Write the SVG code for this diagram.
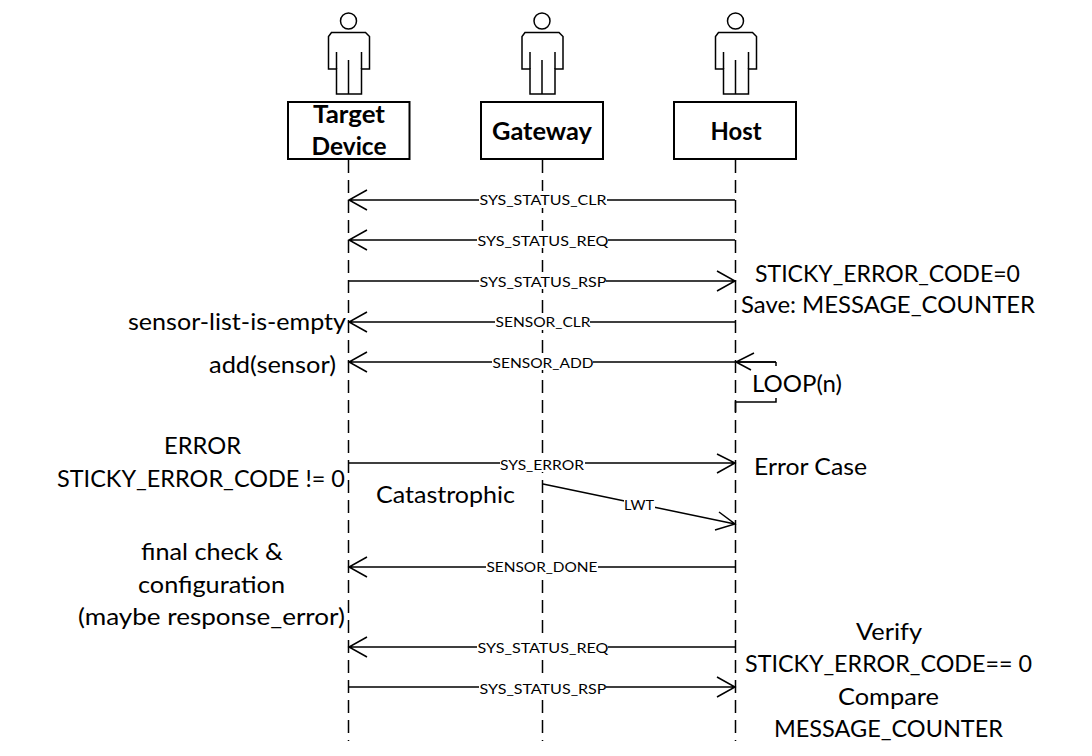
<svg xmlns="http://www.w3.org/2000/svg" width="1092" height="756" viewBox="0 0 1092 756">
<style>
text{font-family:"Lato","Carlito","Open Sans",sans-serif;fill:#000}
.t{font-size:24px}
.b{font-size:24px;font-weight:700;text-anchor:middle}
.m{font-size:13.5px;text-anchor:middle}
.l{stroke:#000;stroke-width:1.5;fill:none}
.d{stroke:#000;stroke-width:1.5;fill:none;stroke-dasharray:13 7}
.bg{fill:#fff}
.box{fill:#fff;stroke:#000;stroke-width:2}
</style>
<defs>
<g id="actor" class="l">
<circle cx="0" cy="21" r="8"/>
<path d="M-17 32.500H17L21 36.500V69H13V94H-12V69H-20V36.500L-17 32.500Z"/>
<path d="M-12 69V52M13 69V52M0 94V60"/>
</g>
</defs>
<rect width="1092" height="756" fill="#fff"/>
<g id="lifelines">
<path class="d" d="M348.500 160V741"/>
<path class="d" d="M542.500 160V741"/>
<path class="d" d="M735.500 160V741"/>
</g>
<g id="connectors">
<path class="l" d="M735 200H349M367 190L349 200L367 210"/>
<path class="l" d="M735 240H349M367 230L349 240L367 250"/>
<path class="l" d="M349 281H735M717 271L735 281L717 291"/>
<path class="l" d="M735 322H349M367 312L349 322L367 332"/>
<path class="l" d="M776 362H349M367 352L349 362L367 372"/>
<path class="l" d="M776 362H736M754 353L736 362L751 370"/>
<path class="l" d="M776 362V366M776 398V402H735.500V412"/>
<path class="l" d="M349 463H735M717 454L735 463L717 473"/>
<path class="l" d="M543 484L735 524M719 512L735 524L715 530"/>
<path class="l" d="M735 567H349M367 557L349 567L367 577"/>
<path class="l" d="M735 647H349M367 637L349 647L367 657"/>
<path class="l" d="M349 687H735M717 677L735 687L717 697"/>
</g>
<g id="message-labels">
<rect class="bg" x="479" y="191" width="128" height="17"/><text class="m" x="543" y="205" textLength="127" lengthAdjust="spacingAndGlyphs">SYS_STATUS_CLR</text>
<rect class="bg" x="477" y="231" width="131" height="17"/><text class="m" x="543" y="246" textLength="131" lengthAdjust="spacingAndGlyphs">SYS_STATUS_REQ</text>
<rect class="bg" x="479" y="272" width="127" height="17"/><text class="m" x="543" y="287" textLength="127" lengthAdjust="spacingAndGlyphs">SYS_STATUS_RSP</text>
<rect class="bg" x="495" y="313" width="95" height="17"/><text class="m" x="543" y="327" textLength="95" lengthAdjust="spacingAndGlyphs">SENSOR_CLR</text>
<rect class="bg" x="492" y="353" width="101" height="17"/><text class="m" x="543" y="368" textLength="101" lengthAdjust="spacingAndGlyphs">SENSOR_ADD</text>
<rect class="bg" x="500" y="455" width="85" height="17"/><text class="m" x="542" y="470" textLength="84" lengthAdjust="spacingAndGlyphs">SYS_ERROR</text>
<rect class="bg" x="624" y="497" width="31" height="17"/><text class="m" x="639" y="510" textLength="30" lengthAdjust="spacingAndGlyphs">LWT</text>
<rect class="bg" x="486" y="558" width="112" height="17"/><text class="m" x="542" y="572" textLength="111" lengthAdjust="spacingAndGlyphs">SENSOR_DONE</text>
<rect class="bg" x="477" y="638" width="131" height="17"/><text class="m" x="543" y="653" textLength="131" lengthAdjust="spacingAndGlyphs">SYS_STATUS_REQ</text>
<rect class="bg" x="479" y="679" width="127" height="17"/><text class="m" x="543" y="694" textLength="127" lengthAdjust="spacingAndGlyphs">SYS_STATUS_RSP</text>
</g>
<g id="target-device">
<use href="#actor" x="348.500"/>
<rect class="box" x="288" y="102" width="121.500" height="57"/>
<text class="b" x="349" y="123" textLength="72" lengthAdjust="spacingAndGlyphs">Target</text>
<text class="b" x="349" y="155" textLength="75" lengthAdjust="spacingAndGlyphs">Device</text>
</g>
<g id="gateway">
<use href="#actor" x="542"/>
<rect class="box" x="481" y="102" width="122" height="57"/>
<text class="b" x="542" y="140" textLength="100" lengthAdjust="spacingAndGlyphs">Gateway</text>
</g>
<g id="host">
<use href="#actor" x="735.500"/>
<rect class="box" x="674" y="102" width="122" height="57"/>
<text class="b" x="736" y="140" textLength="51" lengthAdjust="spacingAndGlyphs">Host</text>
</g>
<g id="notes" class="t">
<text x="755" y="282" textLength="265" lengthAdjust="spacingAndGlyphs">STICKY_ERROR_CODE=0</text>
<text x="741" y="313" textLength="294" lengthAdjust="spacingAndGlyphs">Save: MESSAGE_COUNTER</text>
<text x="128" y="330" textLength="218" lengthAdjust="spacingAndGlyphs">sensor-list-is-empty</text>
<text x="209" y="373" textLength="127" lengthAdjust="spacingAndGlyphs">add(sensor)</text>
<text x="752" y="392" textLength="90" lengthAdjust="spacingAndGlyphs">LOOP(n)</text>
<text x="164" y="454" textLength="77" lengthAdjust="spacingAndGlyphs">ERROR</text>
<text x="57" y="487" textLength="288" lengthAdjust="spacingAndGlyphs">STICKY_ERROR_CODE != 0</text>
<text x="754" y="475" textLength="113" lengthAdjust="spacingAndGlyphs">Error Case</text>
<text x="376" y="503" textLength="139" lengthAdjust="spacingAndGlyphs">Catastrophic</text>
<text x="141" y="560" textLength="142" lengthAdjust="spacingAndGlyphs">final check &amp;</text>
<text x="138" y="593" textLength="147" lengthAdjust="spacingAndGlyphs">configuration</text>
<text x="78" y="625" textLength="267" lengthAdjust="spacingAndGlyphs">(maybe response_error)</text>
<text x="856" y="640" textLength="66" lengthAdjust="spacingAndGlyphs">Verify</text>
<text x="745" y="672" textLength="287" lengthAdjust="spacingAndGlyphs">STICKY_ERROR_CODE== 0</text>
<text x="838" y="705" textLength="101" lengthAdjust="spacingAndGlyphs">Compare</text>
<text x="774" y="737" textLength="229" lengthAdjust="spacingAndGlyphs">MESSAGE_COUNTER</text>
</g>
</svg>
